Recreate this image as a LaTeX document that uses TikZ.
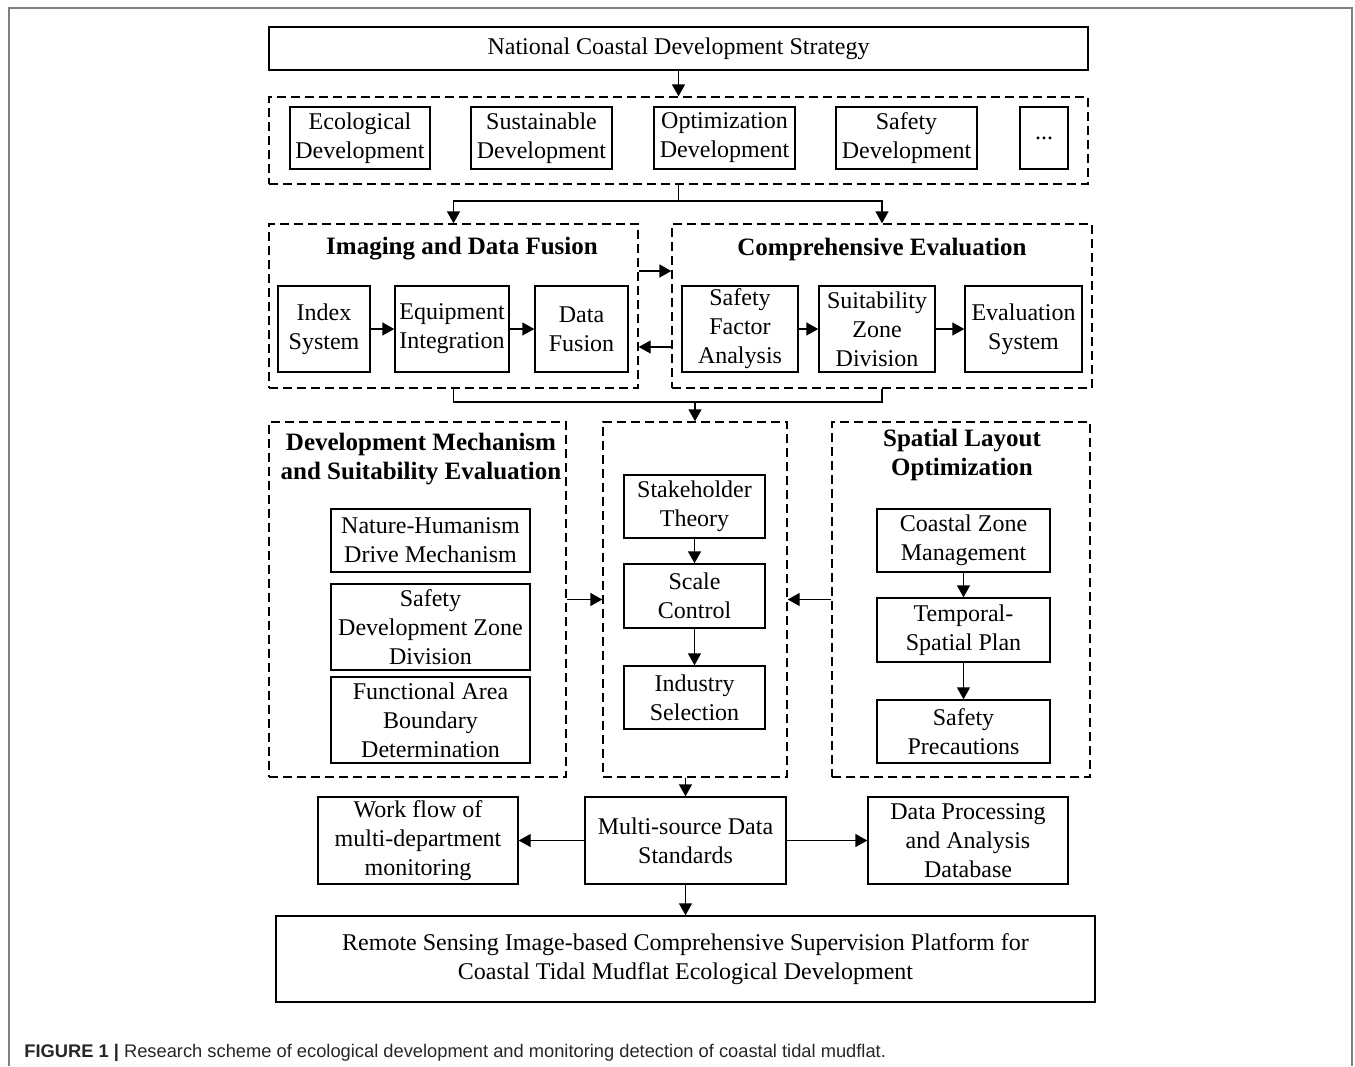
\documentclass[tikz,border=0pt]{standalone}
\usepackage{fontspec}
\setmainfont{Liberation Serif}
\newfontfamily\capfont{Liberation Sans}
\usetikzlibrary{arrows.meta,fit}
\tikzset{
  box/.style={draw,line width=0.7pt,inner sep=0pt,align=center,font=\fontsize{12}{14.5}\selectfont},
  sz/.style 2 args={minimum width=#1*0.5pt,minimum height=#2*0.5pt},
  grp/.style={draw,line width=0.7pt,dash pattern=on 4.5pt off 2.5pt,inner sep=0pt},
  ttl/.style={align=center,font=\fontsize{12.5}{14.5}\selectfont\bfseries},
  arr/.style={line width=0.7pt,-{Triangle[length=6pt,width=6.5pt]}},
  ln/.style={line width=0.7pt},
}

\begin{document}
\begin{tikzpicture}[x=0.5pt,y=-0.5pt]
      \useasboundingbox (0,0) rectangle (1355,1066);
      \draw[gray,line width=0.6pt] (9,1066) -- (9,8) -- (1352,8) -- (1352,1066);
      % strategy and goals
      \node[box,sz={819}{43}] (nat) at (678.5,48.5) {National Coastal Development Strategy};
      \node[grp,fit={(269,97) (1088,184)}] (goals) {};
      \node[box,sz={140}{62}] (eco) at (360,138) {Ecological\\Development};
      \node[box,sz={141}{62}] (sus) at (541.5,138) {Sustainable\\Development};
      \node[box,sz={141}{62}] (opt) at (724.5,138) {Optimization\\Development};
      \node[box,sz={141}{62}] (saf) at (906.5,138) {Safety\\Development};
      \node[box,sz={48}{62}] (etc) at (1044,138) {...};
      \draw[arr] (nat) -- (goals);
      % imaging and evaluation
      \node[grp,fit={(269,224) (638,388)}] (imag) {};
      \node[ttl] (imagT) at (462,249) {Imaging and Data Fusion};
      \node[box,sz={92}{86}] (idx) at (324,329) {Index\\System};
      \node[box,sz={114}{86}] (equ) at (452,329) {Equipment\\Integration};
      \node[box,sz={93}{86}] (fus) at (581.5,329) {Data\\Fusion};
      \node[grp,fit={(672,224) (1092,388)}] (comp) {};
      \node[ttl] (compT) at (882,249) {Comprehensive Evaluation};
      \node[box,sz={116}{86}] (sfa) at (740,329) {Safety\\Factor\\Analysis};
      \node[box,sz={116}{86}] (szd) at (877,329) {Suitability\\Zone\\Division};
      \node[box,sz={117}{86}] (evs) at (1023.5,329) {Evaluation\\System};
      \coordinate (split) at (678.5,201);
      \draw[ln] (goals) -- (split);
      \draw[arr] (split) -| (imag);
      \draw[arr] (split) -| (comp);
      \draw[arr] (idx) -- (equ);
      \draw[arr] (equ) -- (fus);
      \draw[arr] (sfa) -- (szd);
      \draw[arr] (szd) -- (evs);
      \draw[arr] ([yshift=17.5pt]imag.east) -- ([yshift=17.5pt]comp.west);
      \draw[arr] ([yshift=-20.5pt]comp.west) -- ([yshift=-20.5pt]imag.east);
      % mechanism, core and layout
      \node[grp,fit={(269,422) (566,777)}] (dev) {};
      \node[ttl] (devT) at (421,459.5) {Development Mechanism\\and Suitability Evaluation};
      \node[box,sz={199}{63}] (nhd) at (430.5,540.5) {Nature-Humanism\\Drive Mechanism};
      \node[box,sz={199}{86}] (sdz) at (430.5,627) {Safety\\Development Zone\\Division};
      \node[box,sz={199}{86}] (fab) at (430.5,720) {Functional Area\\Boundary\\Determination};
      \node[grp,fit={(603,422) (787,777)}] (core) {};
      \node[box,sz={141}{63}] (stk) at (694.5,506.5) {Stakeholder\\Theory};
      \node[box,sz={141}{64}] (scl) at (694.5,596) {Scale\\Control};
      \node[box,sz={141}{63}] (ind) at (694.5,697.5) {Industry\\Selection};
      \node[grp,fit={(832,422) (1090,777)}] (lay) {};
      \node[ttl] (layT) at (962,455) {Spatial Layout\\Optimization};
      \node[box,sz={173}{63}] (czm) at (963.5,540.5) {Coastal Zone\\Management};
      \node[box,sz={173}{64}] (tsp) at (963.5,630) {Temporal-\\Spatial Plan};
      \node[box,sz={173}{63}] (sfp) at (963.5,731.5) {Safety\\Precautions};
      \coordinate (join) at (695,402);
      \draw[ln] (imag.south) |- (join) -| (comp.south);
      \draw[arr] (join) -- (core);
      \draw[arr] (dev) -- (core);
      \draw[arr] (lay) -- (core);
      \draw[arr] (stk) -- (scl);
      \draw[arr] (scl) -- (ind);
      \draw[arr] (czm) -- (tsp);
      \draw[arr] (tsp) -- (sfp);
      % standards and platform
      \node[box,sz={201}{87}] (msd) at (685.5,840.5) {Multi-source Data\\Standards};
      \node[box,sz={200}{87}] (wfl) at (418,840.5) {Work flow of\\multi-department\\monitoring};
      \node[box,sz={200}{87}] (dpa) at (968,840.5) {Data Processing\\and Analysis\\Database};
      \node[box,sz={819}{86}] (plat) at (685.5,959) {Remote Sensing Image-based Comprehensive Supervision Platform for\\Coastal Tidal Mudflat Ecological Development};
      \draw[arr] (core.south -| msd.north) -- (msd);
      \draw[arr] (msd) -- (wfl);
      \draw[arr] (msd) -- (dpa);
      \draw[arr] (msd) -- (plat);
      \node[anchor=base west,inner sep=0pt,text=black!85,font=\capfont\fontsize{9.15}{11}\selectfont] (cap) at (24,1057) {\textbf{FIGURE 1 |} Research scheme of ecological development and monitoring detection of coastal tidal mudflat.};
\end{tikzpicture}
\end{document}
